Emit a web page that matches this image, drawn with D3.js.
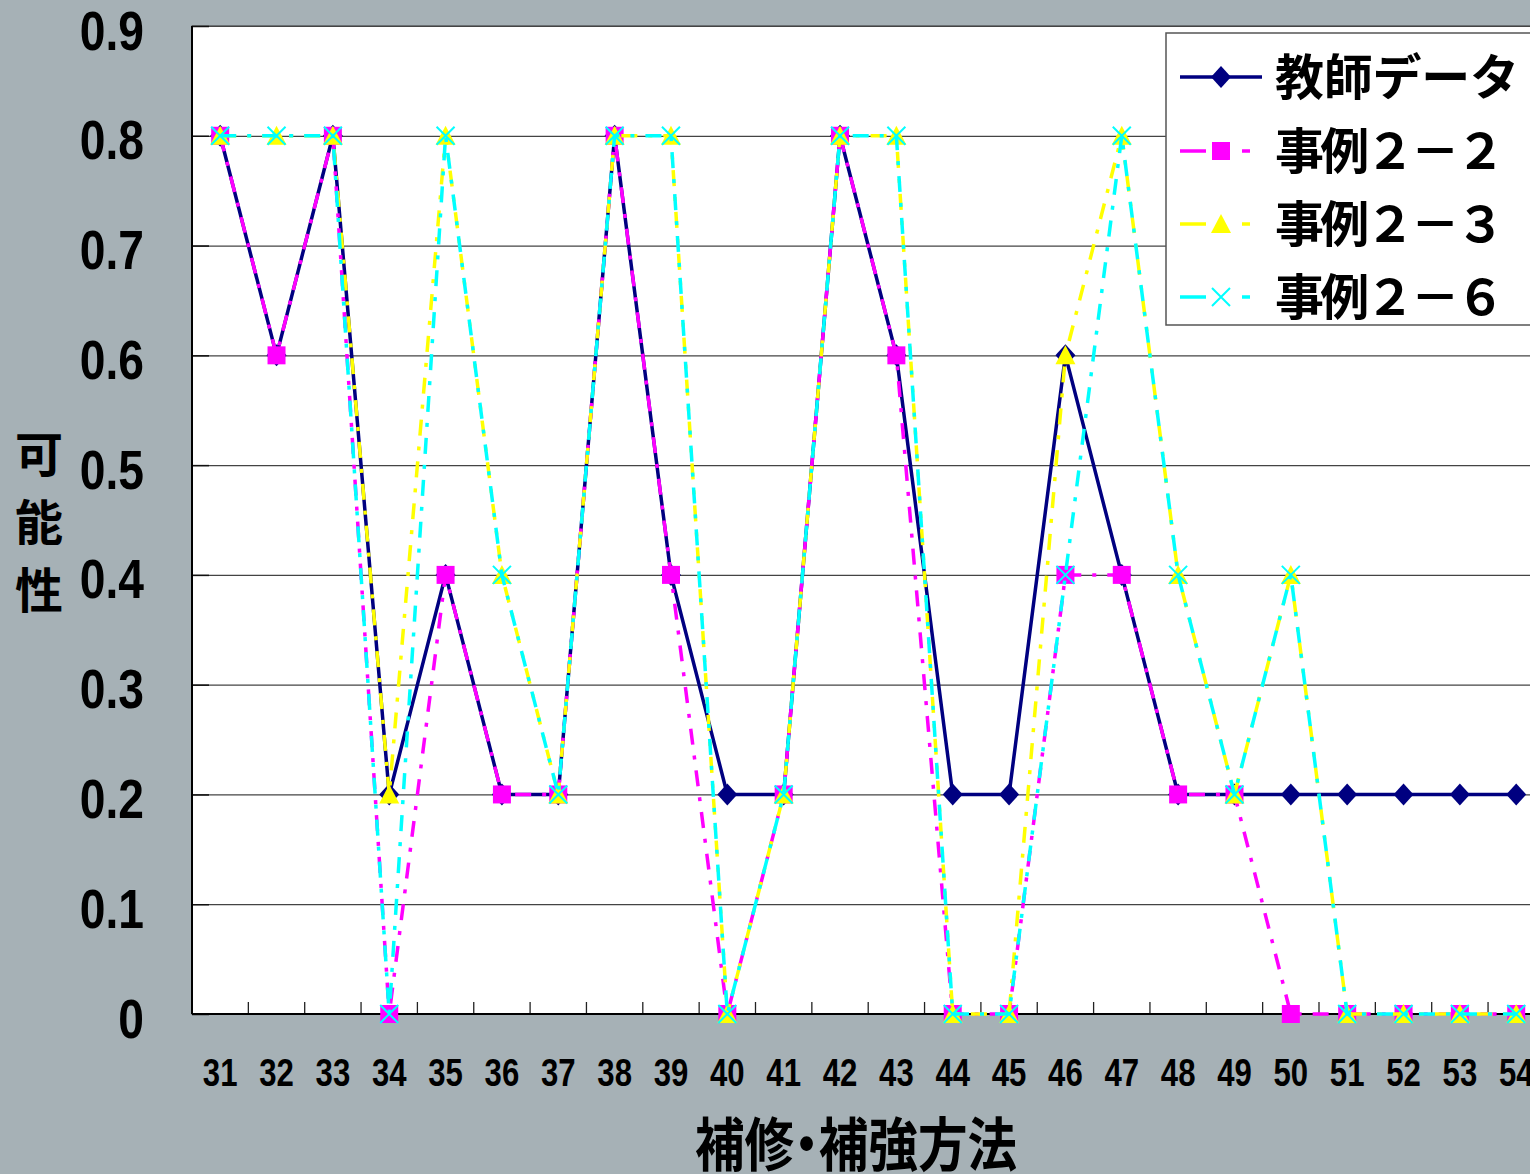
<!DOCTYPE html>
<html><head><meta charset="utf-8">
<script src="https://cdn.jsdelivr.net/npm/d3@7"></script>
<style>html,body{margin:0;padding:0;background:#a6b1b6;overflow:hidden}svg{display:block}</style>
</head><body><svg id="c" width="1530" height="1174"></svg>
<script>
const categories = ["31","32","33","34","35","36","37","38","39","40","41","42","43","44","45","46","47","48","49","50","51","52","53","54"];
const teacher = [0.8,0.6,0.8,0.2,0.4,0.2,0.2,0.8,0.4,0.2,0.2,0.8,0.6,0.2,0.2,0.6,0.4,0.2,0.2,0.2,0.2,0.2,0.2,0.2];
const case22  = [0.8,0.6,0.8,0.0,0.4,0.2,0.2,0.8,0.4,0.0,0.2,0.8,0.6,0.0,0.0,0.4,0.4,0.2,0.2,0.0,0.0,0.0,0.0,0.0];
const case23  = [0.8,0.8,0.8,0.2,0.8,0.4,0.2,0.8,0.8,0.0,0.2,0.8,0.8,0.0,0.0,0.6,0.8,0.4,0.2,0.4,0.0,0.0,0.0,0.0];
const case26  = [0.8,0.8,0.8,0.0,0.8,0.4,0.2,0.8,0.8,0.0,0.2,0.8,0.8,0.0,0.0,0.4,0.8,0.4,0.2,0.4,0.0,0.0,0.0,0.0];
const seriesNames = ["教師データ","事例２－２","事例２－３","事例２－６"];
const yTicks = [0,0.1,0.2,0.3,0.4,0.5,0.6,0.7,0.8,0.9];
const yTickLabels = ["0","0.1","0.2","0.3","0.4","0.5","0.6","0.7","0.8","0.9"];
const yTitle = "可能性";
const xTitle = "補修・補強方法";

const svg = d3.select("#c");
const L = 192, T = 26, B = 1014, step = 56.35;
const R = L + step * categories.length;
const x = d3.scaleBand().domain(categories).range([L, R]).padding(0);
const cx = c => x(c) + x.bandwidth() / 2;
const y = d3.scaleLinear().domain([0, 0.9]).range([B, T]);

// plot area
svg.append("rect").attr("x", L).attr("y", T).attr("width", R - L).attr("height", B - T)
  .attr("fill", "#fff").attr("stroke", "#333").attr("stroke-width", 1);

// gridlines
const grid = svg.append("g").attr("transform", `translate(${L},0)`)
  .call(d3.axisLeft(y).tickValues(yTicks.filter(v => v > 0)).tickSize(-(R - L)).tickFormat(""));
grid.select(".domain").remove();
grid.selectAll("line").attr("stroke", "#444").attr("stroke-width", 1.2);
// inner y ticks
const yt = svg.append("g").attr("transform", `translate(${L},0)`)
  .call(d3.axisRight(y).tickValues(yTicks).tickSize(17).tickFormat(""));
yt.select(".domain").remove();
yt.selectAll("line").attr("stroke", "#111").attr("stroke-width", 1.5);

// y labels
const sx = 0.84;
const yl = svg.append("g").attr("transform", `translate(${L},0)`)
  .call(d3.axisLeft(y).tickValues(yTicks).tickSize(0).tickFormat((d, i) => yTickLabels[i]));
yl.select(".domain").remove();
yl.selectAll("text")
  .attr("x", -48 / sx).attr("dy", null).attr("y", 23)
  .attr("transform", `scale(${sx},1)`)
  .attr("text-anchor", "end")
  .attr("font-family", "'Liberation Sans', Arial, sans-serif")
  .attr("font-weight", "bold").attr("font-size", 55).attr("fill", "#000");

// x tick marks at band boundaries
svg.append("g").selectAll("line").data(categories.slice(1)).join("line")
  .attr("x1", d => x(d)).attr("x2", d => x(d)).attr("y1", B).attr("y2", B - 12)
  .attr("stroke", "#222").attr("stroke-width", 1.3);

// axis lines
svg.append("line").attr("x1", L).attr("x2", R).attr("y1", B).attr("y2", B).attr("stroke", "#000").attr("stroke-width", 2);
svg.append("line").attr("x1", L).attr("x2", L).attr("y1", T).attr("y2", B).attr("stroke", "#000").attr("stroke-width", 2);

// x labels
const sxx = 0.82;
const xl = svg.append("g").attr("transform", `translate(0,${B})`)
  .call(d3.axisBottom(x).tickSize(0));
xl.select(".domain").remove();
xl.selectAll(".tick").each(function(d) {
  d3.select(this).select("text")
    .attr("y", 72).attr("dy", null).attr("x", 0)
    .attr("transform", `scale(${sxx},1)`)
    .attr("text-anchor", "middle")
    .attr("font-family", "'Liberation Sans', Arial, sans-serif")
    .attr("font-weight", "bold").attr("font-size", 38).attr("fill", "#000");
});

// markers
const mk = {
  diamond: "M0,-11L10,0L0,11L-10,0Z",
  square: "M-9,-9H9V9H-9Z",
  triangle: "M0,-10L10,9H-10Z",
  x: "M-9,-9L9,9M9,-9L-9,9"
};
const dashPat = "16,11,4,11";
const series = [
  {name: seriesNames[0], values: teacher, color: "#000080", dash: null, marker: "diamond", tl: 244},
  {name: seriesNames[1], values: case22, color: "#ff00ff", dash: dashPat, marker: "square", tl: 230},
  {name: seriesNames[2], values: case23, color: "#ffff00", dash: dashPat, marker: "triangle", tl: 230},
  {name: seriesNames[3], values: case26, color: "#00ffff", dash: dashPat, marker: "x", tl: 230}
];
const line = d3.line().x((d, i) => cx(categories[i])).y(d => y(d));

series.forEach(s => {
  const g = svg.append("g");
  g.append("path").attr("d", line(s.values)).attr("fill", "none")
    .attr("stroke", s.color).attr("stroke-width", 3.5)
    .attr("stroke-dasharray", s.dash);
  g.selectAll("path.m").data(s.values).join("path").attr("class", "m")
    .attr("transform", (d, i) => `translate(${cx(categories[i])},${y(d)})`)
    .attr("d", mk[s.marker])
    .attr("fill", s.marker === "x" ? "none" : s.color)
    .attr("stroke", s.color).attr("stroke-width", s.marker === "x" ? 2 : 0);
});

// legend
const lg = svg.append("g");
lg.append("rect").attr("x", 1166).attr("y", 33).attr("width", 400).attr("height", 292)
  .attr("fill", "#fff").attr("stroke", "#555").attr("stroke-width", 1.5);
const rowY = [77, 151, 224, 297];
series.forEach((s, i) => {
  const g = lg.append("g").attr("transform", `translate(0,${rowY[i]})`);
  g.append("line").attr("x1", 1180).attr("x2", 1262).attr("y1", 0).attr("y2", 0)
    .attr("stroke", s.color).attr("stroke-width", 3.5).attr("stroke-dasharray", s.dash ? "26,36,8,30" : null);
  g.append("path").attr("transform", "translate(1221,0)").attr("d", mk[s.marker])
    .attr("fill", s.marker === "x" ? "none" : s.color)
    .attr("stroke", s.color).attr("stroke-width", s.marker === "x" ? 2 : 0);
  g.append("text").attr("x", 1275).attr("y", 18).text(s.name)
    .attr("textLength", s.tl).attr("lengthAdjust", "spacing")
    .attr("font-family", "'Noto Sans CJK JP', sans-serif").attr("font-weight", "bold")
    .attr("font-size", 49).attr("fill", "#000");
});

// y title
svg.append("g").selectAll("text").data(yTitle.split("")).join("text")
  .attr("x", 39).attr("y", (d, i) => 472 + i * 68).text(d => d)
  .attr("text-anchor", "middle")
  .attr("font-family", "'Noto Sans CJK JP', sans-serif").attr("font-weight", "bold")
  .attr("font-size", 48).attr("fill", "#000");

// x title
svg.append("text").attr("x", 695).attr("y", 1166).text(xTitle)
  .attr("textLength", 322).attr("lengthAdjust", "spacingAndGlyphs")
  .style("font-feature-settings", "'palt'")
  .attr("font-family", "'Noto Sans CJK JP', sans-serif").attr("font-weight", "bold")
  .attr("font-size", 58).attr("fill", "#000");
</script></body></html>
